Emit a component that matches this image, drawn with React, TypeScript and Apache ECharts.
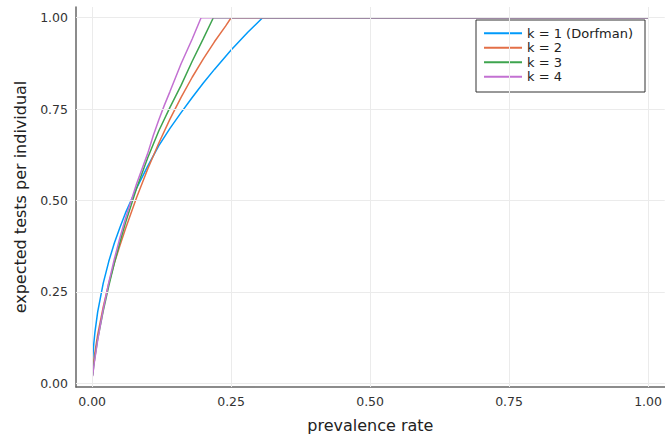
import React, { useEffect, useRef } from "react";
import * as echarts from "echarts";

// prevalence rate (x) and expected tests per individual (y)
const xK1 = [0.001, 0.002, 0.003, 0.005, 0.01, 0.02, 0.03, 0.04, 0.05, 0.06, 0.08, 0.1, 0.12, 0.14, 0.16, 0.18, 0.2, 0.22, 0.25, 0.28, 0.3066, 1.0];
const yK1 = [0.0628, 0.0885, 0.1081, 0.1391, 0.1956, 0.2742, 0.3337, 0.3839, 0.4262, 0.4661, 0.5336, 0.5939, 0.6503, 0.6972, 0.7406, 0.7819, 0.8213, 0.8587, 0.9115, 0.9601, 1.0, 1.0];

const xK2 = [0.001, 0.003, 0.005, 0.01, 0.02, 0.03, 0.04, 0.05, 0.06, 0.08, 0.1, 0.12, 0.14, 0.16, 0.18, 0.2, 0.22, 0.24, 0.25, 1.0];
const yK2 = [0.0295, 0.0608, 0.0849, 0.1334, 0.2091, 0.2736, 0.3289, 0.377, 0.4228, 0.5083, 0.5863, 0.6575, 0.7226, 0.7823, 0.8372, 0.8877, 0.9342, 0.9772, 1.0, 1.0];

const xK3 = [0.001, 0.003, 0.005, 0.01, 0.02, 0.03, 0.04, 0.05, 0.06, 0.08, 0.1, 0.12, 0.14, 0.16, 0.18, 0.2, 0.218, 1.0];
const yK3 = [0.0219, 0.0499, 0.0719, 0.1218, 0.198, 0.2665, 0.329, 0.386, 0.439, 0.5336, 0.617, 0.691, 0.755, 0.815, 0.881, 0.943, 1.0, 1.0];

const xK4 = [0.001, 0.003, 0.005, 0.01, 0.02, 0.03, 0.04, 0.05, 0.06, 0.08, 0.1, 0.11, 0.12, 0.13, 0.14, 0.16, 0.18, 0.196, 1.0];
const yK4 = [0.0193, 0.0469, 0.0684, 0.1179, 0.2031, 0.2758, 0.34, 0.398, 0.451, 0.546, 0.629, 0.678, 0.721, 0.761, 0.798, 0.874, 0.942, 1.0, 1.0];

const seriesNames = ["k = 1 (Dorfman)", "k = 2", "k = 3", "k = 4"];
const seriesColors = ["#009AFA", "#E36F47", "#3EA44E", "#C371D2"];

const xTicks = [0, 0.25, 0.5, 0.75, 1.0];
const yTicks = [0, 0.25, 0.5, 0.75, 1.0];

const FONT = "DejaVu Sans";

function zip(xs: number[], ys: number[]) {
  return xs.map((x, i) => [x, ys[i]]);
}

export default function App() {
  const ref = useRef<HTMLDivElement>(null);
  useEffect(() => {
    document.body.style.margin = "0";
    const chart = echarts.init(ref.current!, null, { renderer: "svg" });
    const xs = [xK1, xK2, xK3, xK4];
    const ys = [yK1, yK2, yK3, yK4];
    const lines = seriesNames.map((name, i) => ({
      name,
      type: "line",
      data: zip(xs[i], ys[i]),
      symbol: "none",
      showSymbol: false,
      z: 3,
      lineStyle: { color: seriesColors[i], width: 1.5 },
      itemStyle: { color: seriesColors[i] },
    }));
    const option = {
      animation: false,
      backgroundColor: "#ffffff",
      textStyle: { fontFamily: FONT },
      grid: { left: 76, right: 0, top: 7, bottom: 45, containLabel: false },
      legend: {
        data: seriesNames,
        orient: "vertical",
        right: 20,
        top: 20,
        padding: [6, 12, 8, 8],
        icon: "rect",
        itemWidth: 38,
        itemHeight: 1.8,
        itemGap: 0,
        backgroundColor: "#ffffff",
        borderColor: "#333333",
        borderWidth: 1,
        textStyle: { fontFamily: FONT, fontSize: 13, lineHeight: 14.5, color: "#222222" },
      },
      xAxis: {
        type: "value",
        min: -0.029,
        max: 1.03,
        name: "prevalence rate",
        nameLocation: "middle",
        nameGap: 30,
        nameTextStyle: { fontFamily: FONT, fontSize: 16, color: "#222222" },
        axisLine: { show: true, onZero: false, lineStyle: { color: "#666666", width: 1.5 } },
        axisTick: { show: true, inside: true, length: 4, customValues: xTicks, lineStyle: { color: "#666666", width: 1 } },
        axisLabel: {
          customValues: xTicks,
          formatter: (v: number) => v.toFixed(2),
          fontFamily: FONT,
          fontSize: 12.5,
          color: "#333333",
          margin: 8,
        },
        splitLine: { show: false },
      },
      yAxis: {
        type: "value",
        min: -0.0101,
        max: 1.0294,
        name: "expected tests per individual",
        nameLocation: "middle",
        nameGap: 48,
        nameTextStyle: { fontFamily: FONT, fontSize: 16, color: "#222222" },
        axisLine: { show: true, onZero: false, lineStyle: { color: "#666666", width: 1.5 } },
        axisTick: { show: true, inside: true, length: 4, customValues: yTicks, lineStyle: { color: "#666666", width: 1 } },
        axisLabel: {
          customValues: yTicks,
          formatter: (v: number) => v.toFixed(2),
          fontFamily: FONT,
          fontSize: 12.5,
          color: "#333333",
          margin: 8,
        },
        splitLine: { show: false },
      },
      series: [
        {
          name: "grid",
          type: "line",
          data: [],
          z: 1,
          silent: true,
          markLine: {
            silent: true,
            symbol: ["none", "none"],
            label: { show: false },
            lineStyle: { color: "#ebebeb", width: 1, type: "solid" },
            data: [
              ...xTicks.map((v) => ({ xAxis: v })),
              ...yTicks.map((v) => ({ yAxis: v })),
            ],
          },
        },
        ...lines,
      ],
    };
    chart.setOption(option as any);
    return () => chart.dispose();
  }, []);
  return <div ref={ref} style={{ width: 665, height: 438, background: "#fff" }} />;
}
